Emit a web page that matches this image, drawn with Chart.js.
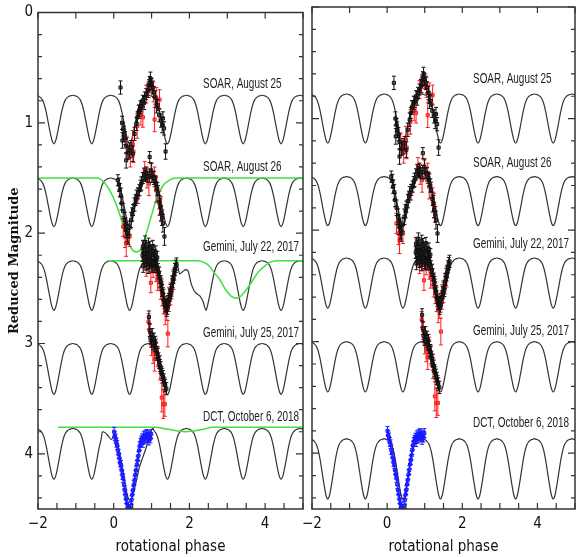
<!DOCTYPE html>
<html>
<head>
<meta charset="utf-8">
<script src="https://cdn.jsdelivr.net/npm/chart.js@4.4.0/dist/chart.umd.min.js"></script>
<style>
  html, body { margin: 0; padding: 0; background: #fff; overflow: hidden; width: 576px; height: 557px; }
  #left { position: absolute; left: 0; top: 0; }
  #right { position: absolute; left: 290px; top: 0; }
</style>
</head>
<body>
<canvas id="left" width="308" height="557"></canvas>
<canvas id="right" width="290" height="557"></canvas>
<script>
// tick labels
const xTickValues = [-2, 0, 2, 4];
const yTickValues = [0, 1, 2, 3, 4];

// one rotation of the model: phase offset from the dip, fraction of the dip depth
const profileDx = [-0.5, -0.45, -0.4, -0.35, -0.3, -0.25, -0.2, -0.15, -0.1, -0.05, 0, 0.05, 0.1, 0.15, 0.2, 0.25, 0.3, 0.35, 0.4, 0.45];
const profileFrac = [0, 0.01, 0.02, 0.05, 0.1, 0.2, 0.36, 0.56, 0.76, 0.93, 1, 0.93, 0.76, 0.56, 0.36, 0.2, 0.1, 0.05, 0.02, 0.01];
const dipCenters = [-2.58, -1.58, -0.58, 0.42, 1.42, 2.42, 3.42, 4.42, 5.42];

// model levels per night (top of the arches, bottom of the dips)
const leftTops = [0.75, 1.5, 2.25, 3.0, 3.77];
const leftDips = [1.19, 1.94, 2.70, 3.46, 4.23];
const rightTops = [0.78, 1.52, 2.25, 3.0, 3.87];
const rightDips = [1.22, 1.96, 2.70, 3.45, 4.41];

// parts of the left-panel models that differ from the plain shape
const jul22ModelPhase = [1.62, 1.68, 1.74, 1.82, 1.90, 1.96, 2.04, 2.12, 2.20, 2.28, 2.36, 2.44];
const jul22ModelMag = [2.33, 2.28, 2.37, 2.35, 2.33, 2.34, 2.45, 2.52, 2.55, 2.57, 2.62, 2.70];
const dctModelPhase = [-0.30, -0.22, -0.14, -0.06, 0.03, 0.10, 0.16, 0.22, 0.29, 0.35, 0.42, 0.51, 0.60, 0.68, 0.77, 0.86, 0.94, 1.03];
const dctModelMag = [3.80, 3.81, 3.84, 3.87, 3.82, 3.90, 4.00, 4.12, 4.24, 4.36, 4.42, 4.36, 4.24, 4.12, 4.03, 3.94, 3.84, 3.77];

// green curves (left panel)
const greenAug26Phase = [-2, -0.45, -0.35, -0.2, -0.02, 0.15, 0.3, 0.45, 0.6, 0.73, 0.86, 0.99, 1.12, 1.3, 1.47, 1.65, 5];
const greenAug26Mag = [1.5, 1.5, 1.51, 1.56, 1.67, 1.82, 2.0, 2.13, 2.17, 2.14, 2.0, 1.85, 1.7, 1.57, 1.52, 1.5, 1.5];
const greenJul22Phase = [-0.16, 2.2, 2.35, 2.5, 2.66, 2.8, 2.97, 3.1, 3.23, 3.36, 3.49, 3.65, 3.8, 3.95, 4.1, 4.3, 5];
const greenJul22Mag = [2.25, 2.25, 2.26, 2.29, 2.36, 2.42, 2.52, 2.57, 2.59, 2.57, 2.52, 2.44, 2.36, 2.31, 2.27, 2.25, 2.25];
const greenDctPhase = [-1.47, 1.1, 1.4, 1.65, 1.9, 2.15, 2.4, 2.6, 5];
const greenDctMag = [3.76, 3.76, 3.775, 3.79, 3.80, 3.79, 3.775, 3.76, 3.76];

// SOAR, August 25
const aug25Phase = [0.18, 0.22, 0.23, 0.25, 0.27, 0.30, 0.33, 0.33, 0.38, 0.42, 0.46, 0.51, 0.55, 0.60, 0.63, 0.66, 0.68, 0.71, 0.73, 0.77, 0.80, 0.82, 0.86, 0.90, 0.93, 0.95, 0.97, 1.00, 1.03, 1.06, 1.10, 1.13, 1.16, 1.20, 1.25, 1.28, 1.30, 1.33, 1.37];
const aug25Mag = [0.68, 1.00, 1.16, 1.06, 1.10, 1.14, 1.21, 1.34, 1.27, 1.25, 1.22, 1.28, 1.10, 1.01, 0.95, 0.90, 0.89, 0.86, 0.85, 0.80, 0.82, 0.77, 0.74, 0.71, 0.66, 0.64, 0.60, 0.65, 0.68, 0.72, 0.77, 0.85, 0.84, 0.93, 0.98, 1.02, 0.96, 1.05, 1.26];
const aug25Err = [0.06, 0.06, 0.07, 0.06, 0.07, 0.06, 0.07, 0.07, 0.06, 0.07, 0.06, 0.07, 0.06, 0.06, 0.05, 0.06, 0.05, 0.06, 0.05, 0.05, 0.06, 0.05, 0.05, 0.06, 0.05, 0.06, 0.06, 0.05, 0.06, 0.05, 0.06, 0.06, 0.05, 0.06, 0.06, 0.07, 0.06, 0.06, 0.07];
const aug25RedPhase = [0.36, 0.44, 0.50, 0.52, 0.62, 0.72, 0.77, 0.86, 0.92, 0.99, 1.05, 1.08, 1.12, 1.21];
const aug25RedMag = [1.22, 1.30, 1.19, 1.26, 1.03, 0.93, 0.95, 0.74, 0.70, 0.66, 0.72, 0.97, 0.77, 0.79];
const aug25RedErr = [0.09, 0.1, 0.12, 0.1, 0.11, 0.09, 0.09, 0.08, 0.07, 0.07, 0.09, 0.11, 0.09, 0.09];

// SOAR, August 26
const aug26Phase = [0.11, 0.14, 0.16, 0.19, 0.21, 0.25, 0.29, 0.31, 0.33, 0.36, 0.38, 0.42, 0.46, 0.49, 0.51, 0.55, 0.58, 0.60, 0.64, 0.68, 0.71, 0.73, 0.77, 0.80, 0.84, 0.86, 0.90, 0.95, 0.95, 0.99, 1.03, 1.06, 1.10, 1.12, 1.15, 1.17, 1.21, 1.23, 1.25, 1.28, 1.30, 1.34];
const aug26Mag = [1.52, 1.56, 1.61, 1.66, 1.73, 1.80, 1.88, 1.92, 1.97, 2.00, 2.03, 1.95, 1.88, 1.83, 1.79, 1.74, 1.70, 1.67, 1.64, 1.61, 1.57, 1.55, 1.50, 1.47, 1.48, 1.46, 1.49, 1.31, 1.48, 1.43, 1.49, 1.50, 1.53, 1.55, 1.60, 1.64, 1.72, 1.76, 1.82, 1.86, 1.91, 2.03];
const aug26Err = [0.05, 0.06, 0.06, 0.07, 0.06, 0.07, 0.07, 0.06, 0.07, 0.08, 0.07, 0.06, 0.07, 0.06, 0.05, 0.06, 0.05, 0.06, 0.05, 0.05, 0.05, 0.06, 0.05, 0.06, 0.05, 0.06, 0.05, 0.05, 0.06, 0.06, 0.05, 0.06, 0.05, 0.06, 0.06, 0.07, 0.06, 0.07, 0.07, 0.07, 0.08, 0.08];
const aug26RedPhase = [0.25, 0.30, 0.33, 0.42, 0.64, 0.82, 0.88, 0.93, 1.00, 1.08, 1.12, 1.21, 1.25];
const aug26RedMag = [1.94, 2.03, 2.09, 2.03, 1.66, 1.43, 1.50, 1.55, 1.45, 1.49, 1.61, 1.73, 1.78];
const aug26RedErr = [0.09, 0.1, 0.12, 0.09, 0.07, 0.08, 0.09, 0.11, 0.09, 0.09, 0.11, 0.11, 0.11];

// Gemini, July 22, 2017
const jul22Phase = [0.76, 0.77, 0.78, 0.79, 0.80, 0.82, 0.83, 0.84, 0.86, 0.87, 0.88, 0.90, 0.91, 0.92, 0.94, 0.95, 0.96, 0.98, 0.99, 1.00, 1.02, 1.03, 1.04, 1.06, 1.07, 1.08, 1.10, 1.11, 1.12, 1.14, 1.15, 1.16, 1.19, 1.21, 1.24, 1.26, 1.28, 1.30, 1.32, 1.34, 1.36, 1.38, 1.40, 1.42, 1.44, 1.46, 1.48, 1.50, 1.52, 1.54, 1.56, 1.58, 1.60, 1.62, 1.64, 1.66];
const jul22Mag = [2.20, 2.12, 2.30, 2.22, 2.15, 2.25, 2.08, 2.12, 2.28, 2.19, 2.18, 2.22, 2.31, 2.10, 2.27, 2.13, 2.17, 2.24, 2.29, 2.20, 2.30, 2.12, 2.16, 2.25, 2.30, 2.20, 2.28, 2.17, 2.24, 2.30, 2.22, 2.33, 2.36, 2.40, 2.44, 2.47, 2.52, 2.55, 2.60, 2.63, 2.66, 2.65, 2.70, 2.68, 2.62, 2.60, 2.56, 2.52, 2.54, 2.47, 2.44, 2.40, 2.37, 2.33, 2.30, 2.28];
const jul22Err = jul22Phase.map(() => 0.055);
const jul22RedPhase = [0.78, 0.82, 0.86, 0.90, 0.94, 0.98, 1.00, 1.04, 1.08, 1.12, 1.16, 1.20, 1.24, 1.28, 1.32, 1.36, 1.40, 1.43, 1.46, 1.50, 1.54, 1.58];
const jul22RedMag = [2.15, 2.25, 2.30, 2.20, 2.28, 2.45, 2.18, 2.32, 2.25, 2.35, 2.42, 2.40, 2.50, 2.55, 2.62, 2.72, 2.68, 2.91, 2.60, 2.55, 2.48, 2.42];
const jul22RedErr = [0.07, 0.08, 0.09, 0.07, 0.08, 0.09, 0.07, 0.08, 0.09, 0.09, 0.1, 0.09, 0.1, 0.11, 0.11, 0.11, 0.11, 0.12, 0.11, 0.1, 0.09, 0.09];

// Gemini, July 25, 2017
const jul25Phase = [0.93, 0.95, 0.97, 1.00, 1.02, 1.04, 1.06, 1.08, 1.10, 1.12, 1.14, 1.16, 1.18, 1.20, 1.22, 1.24, 1.26, 1.28, 1.30, 1.32, 1.34, 1.36, 1.39];
const jul25Mag = [2.76, 2.88, 2.95, 2.98, 2.92, 3.00, 2.96, 3.02, 2.99, 3.05, 3.08, 3.10, 3.14, 3.17, 3.20, 3.22, 3.26, 3.28, 3.30, 3.33, 3.36, 3.38, 3.41];
const jul25Err = jul25Phase.map(() => 0.055);
const jul25RedPhase = [0.92, 0.96, 1.00, 1.04, 1.08, 1.12, 1.17, 1.22, 1.27, 1.31, 1.35];
const jul25RedMag = [2.80, 2.90, 3.02, 3.08, 3.14, 3.05, 3.12, 3.22, 3.49, 3.55, 3.55];
const jul25RedErr = [0.07, 0.08, 0.09, 0.1, 0.11, 0.09, 0.09, 0.11, 0.13, 0.13, 0.11];

// DCT, October 6, 2018
const dctPhase = [0.01, 0.03, 0.05, 0.07, 0.09, 0.11, 0.13, 0.15, 0.17, 0.19, 0.21, 0.23, 0.25, 0.27, 0.29, 0.31, 0.33, 0.35, 0.37, 0.39, 0.41, 0.43, 0.45, 0.47, 0.49, 0.51, 0.53, 0.55, 0.57, 0.59, 0.61, 0.63, 0.65, 0.67, 0.69, 0.71, 0.73, 0.75, 0.77, 0.79, 0.81, 0.83, 0.85, 0.87, 0.89, 0.91, 0.93, 0.95, 0.97, 0.99];
const dctMag = [3.80, 3.84, 3.86, 3.90, 3.92, 3.97, 4.00, 4.04, 4.08, 4.10, 4.15, 4.19, 4.22, 4.28, 4.33, 4.37, 4.41, 4.45, 4.48, 4.50, 4.52, 4.50, 4.47, 4.42, 4.37, 4.33, 4.28, 4.24, 4.19, 4.15, 4.10, 4.06, 4.02, 3.97, 3.93, 3.90, 3.88, 3.86, 3.90, 3.84, 3.87, 3.83, 3.86, 3.82, 3.85, 3.83, 3.88, 3.84, 3.86, 3.82];
const dctErr = dctPhase.map(() => 0.04);

const nightLabels = ['SOAR, August 25', 'SOAR, August 26', 'Gemini, July 22, 2017', 'Gemini, July 25, 2017', 'DCT, October 6, 2018'];
const leftLabelY = [0.65, 1.40, 2.13, 2.91, 3.67];
const rightLabelY = [0.65, 1.40, 2.13, 2.91, 3.73];

function pts(xs, ys) {
    return xs.map((x, i) => ({x: x, y: ys[i]}));
}

function modelPoints(top, dip, ovPhase, ovMag) {
    let p = [];
    dipCenters.forEach(c => profileDx.forEach((dx, i) => {
        p.push({x: c + dx, y: top + (dip - top) * profileFrac[i]});
    }));
    if (ovPhase) {
        const a = ovPhase[0], b = ovPhase[ovPhase.length - 1];
        p = p.filter(q => q.x < a - 0.02 || q.x > b + 0.02);
        p = p.concat(pts(ovPhase, ovMag));
        p.sort((q, r) => q.x - r.x);
    }
    return p;
}

function lineSet(data, color, width, order) {
    return {data: data, showLine: true, borderColor: color, borderWidth: width, pointRadius: 0,
        tension: 0.4, cubicInterpolationMode: 'monotone', order: order};
}

function pointSet(data, errs, color, fill, order) {
    return {data: data, errs: errs, showLine: false, pointStyle: 'rect', pointRadius: 2.2,
        borderColor: color, backgroundColor: fill, borderWidth: 1, order: order};
}

function dataSets() {
    const grey = 'rgba(110,110,110,0.7)', pink = 'rgba(255,80,80,0.6)';
    return [
        pointSet(pts(aug25Phase, aug25Mag), aug25Err, '#111', grey, 0),
        pointSet(pts(aug26Phase, aug26Mag), aug26Err, '#111', grey, 0),
        pointSet(pts(jul22Phase, jul22Mag), jul22Err, '#111', grey, 0),
        pointSet(pts(jul25Phase, jul25Mag), jul25Err, '#111', grey, 0),
        pointSet(pts(aug25RedPhase, aug25RedMag), aug25RedErr, '#ff1a1a', pink, 1),
        pointSet(pts(aug26RedPhase, aug26RedMag), aug26RedErr, '#ff1a1a', pink, 1),
        pointSet(pts(jul22RedPhase, jul22RedMag), jul22RedErr, '#ff1a1a', pink, 1),
        pointSet(pts(jul25RedPhase, jul25RedMag), jul25RedErr, '#ff1a1a', pink, 1),
        pointSet(pts(dctPhase, dctMag), dctErr, '#1a1aff', 'rgba(80,80,255,0.6)', 0)
    ];
}

const errorBars = {
    id: 'errorBars',
    afterDatasetDraw(chart, args) {
        const ds = chart.data.datasets[args.index];
        if (!ds.errs) return;
        const {ctx, chartArea: a, scales: {x, y}} = chart;
        ctx.save();
        ctx.beginPath();
        ctx.rect(a.left, a.top, a.right - a.left, a.bottom - a.top);
        ctx.clip();
        ctx.strokeStyle = ds.borderColor;
        ctx.lineWidth = 1;
        ctx.beginPath();
        ds.data.forEach((p, i) => {
            const px = x.getPixelForValue(p.x);
            const y1 = y.getPixelForValue(p.y - ds.errs[i]);
            const y2 = y.getPixelForValue(p.y + ds.errs[i]);
            ctx.moveTo(px, y1); ctx.lineTo(px, y2);
            ctx.moveTo(px - 2, y1); ctx.lineTo(px + 2, y1);
            ctx.moveTo(px - 2, y2); ctx.lineTo(px + 2, y2);
        });
        ctx.stroke();
        ctx.restore();
    }
};

const frame = {
    id: 'frame',
    afterDraw(chart, args, opts) {
        const {ctx, chartArea: a, scales: {x, y}} = chart;
        ctx.save();
        ctx.strokeStyle = '#333';
        ctx.lineWidth = 1.5;
        ctx.strokeRect(a.left, a.top, a.right - a.left, a.bottom - a.top);
        ctx.lineWidth = 1.2;
        ctx.beginPath();
        for (let i = -4; i <= 10; i++) {
            const px = x.getPixelForValue(i / 2);
            ctx.moveTo(px, a.bottom); ctx.lineTo(px, a.bottom - 6);
            if (i % 2 === 0) { ctx.moveTo(px, a.top); ctx.lineTo(px, a.top + 6); }
        }
        for (let i = 0; i <= 22; i++) {
            const py = y.getPixelForValue(i / 5);
            const len = i % 5 === 0 ? 7 : 4;
            ctx.moveTo(a.left, py); ctx.lineTo(a.left + len, py);
            ctx.moveTo(a.right, py); ctx.lineTo(a.right - len, py);
        }
        ctx.stroke();
        // night labels, squeezed like the condensed face of the original
        ctx.fillStyle = '#222';
        ctx.font = '14px "Liberation Sans", Arial, sans-serif';
        ctx.textAlign = 'left';
        ctx.textBaseline = 'middle';
        nightLabels.forEach((t, i) => {
            ctx.save();
            ctx.translate(a.left + opts.labelDx, y.getPixelForValue(opts.labelY[i]));
            ctx.scale(0.71, 1);
            ctx.fillText(t, 0, 0);
            ctx.restore();
        });
        ctx.restore();
    }
};

function makeChart(id, datasets, o) {
    return new Chart(document.getElementById(id), {
        type: 'scatter',
        data: {datasets: datasets},
        options: {
            responsive: false,
            animation: false,
            events: [],
            layout: {padding: {top: 7, right: o.padRight, left: 0, bottom: 0}},
            plugins: {
                legend: {display: false},
                tooltip: {enabled: false},
                frame: {labelDx: o.labelDx, labelY: o.labelY}
            },
            scales: {
                x: {
                    type: 'linear', min: -2, max: 5,
                    grid: {display: false, drawTicks: false},
                    border: {display: false},
                    afterBuildTicks: s => { s.ticks = xTickValues.map(v => ({value: v})); },
                    afterFit: s => { s.height = 48; },
                    ticks: {padding: 8, color: '#111', font: {family: 'DejaVu Sans Condensed', size: 15, lineHeight: 1},
                        callback: v => v < 0 ? '\u2212' + Math.abs(v) : String(v)},
                    title: {display: true, text: 'rotational phase', color: '#111',
                        font: {family: 'DejaVu Sans Condensed', size: 15, lineHeight: 1}, padding: {top: 0, bottom: 2}}
                },
                y: {
                    type: 'linear', min: 0, max: 4.5, reverse: true,
                    grid: {display: false, drawTicks: false},
                    border: {display: false},
                    afterBuildTicks: s => { s.ticks = yTickValues.map(v => ({value: v})); },
                    afterFit: s => { s.width = o.yWidth; },
                    ticks: {display: o.showY, padding: 5, color: '#111', font: {family: 'DejaVu Sans Condensed', size: 15, lineHeight: 1}},
                    title: {display: o.showY, text: 'Reduced Magnitude', color: '#111',
                        font: {family: 'DejaVu Serif', size: 13, weight: 'bold', lineHeight: 1}, padding: {top: 8}}
                }
            }
        },
        plugins: [errorBars, frame]
    });
}

// left panel: models plus green curves
const leftSets = dataSets().concat([
    lineSet(pts(greenAug26Phase, greenAug26Mag), '#3fe03f', 1.5, 2),
    lineSet(pts(greenJul22Phase, greenJul22Mag), '#3fe03f', 1.5, 2),
    lineSet(pts(greenDctPhase, greenDctMag), '#3fe03f', 1.5, 2),
    lineSet(modelPoints(leftTops[0], leftDips[0]), '#333', 1.2, 3),
    lineSet(modelPoints(leftTops[1], leftDips[1]), '#333', 1.2, 3),
    lineSet(modelPoints(leftTops[2], leftDips[2], jul22ModelPhase, jul22ModelMag), '#333', 1.2, 3),
    lineSet(modelPoints(leftTops[3], leftDips[3]), '#333', 1.2, 3),
    lineSet(modelPoints(leftTops[4], leftDips[4], dctModelPhase, dctModelMag), '#333', 1.2, 3)
]);

const rightSets = dataSets().concat(rightTops.map((t, i) => lineSet(modelPoints(t, rightDips[i]), '#333', 1.2, 3)));

makeChart('left', leftSets, {padRight: 4, yWidth: 38, showY: true, labelDx: 165, labelY: leftLabelY});
makeChart('right', rightSets, {padRight: 2, yWidth: 22, showY: false, labelDx: 161, labelY: rightLabelY});
</script>
</body>
</html>
